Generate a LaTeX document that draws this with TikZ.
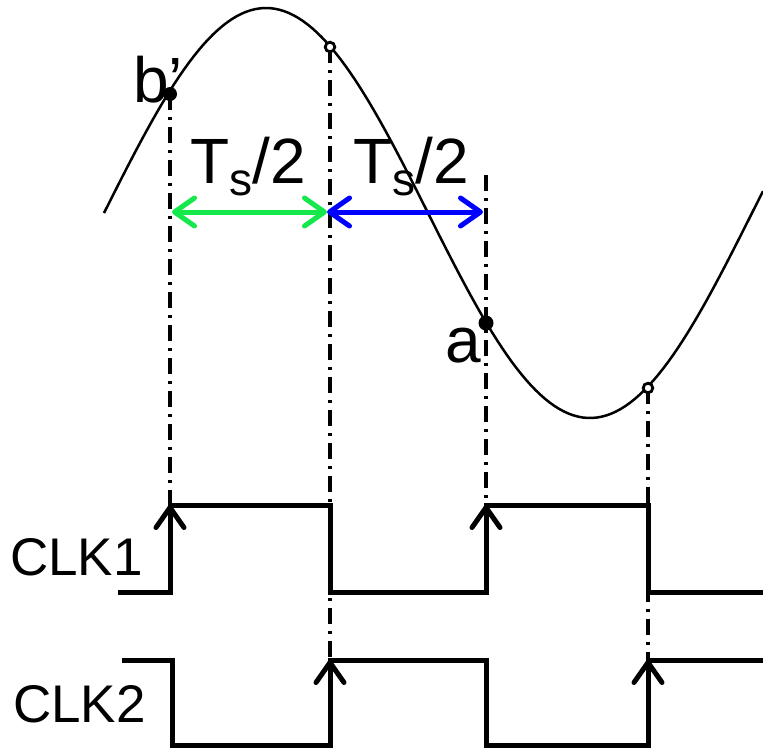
\documentclass[tikz,border=0pt]{standalone}
\usepackage{fontspec}
\setmainfont{Liberation Sans}
\usetikzlibrary{arrows.meta}
\definecolor{Green}{HTML}{14E84A}
\definecolor{Blue}{HTML}{0000FF}

\begin{document}
\begin{tikzpicture}[x=1pt,y=-1pt,>={Straight Barb[length=20pt,width=28pt,round]},
    clk/.style={line width=5pt},
    guide/.style={line width=4pt,dash pattern=on 16pt off 7pt on 3pt off 7pt},
    lbl/.style={inner sep=0pt,anchor=base west,font=\fontsize{64}{70}\selectfont},
    clklbl/.style={inner sep=0pt,anchor=base west,font=\fontsize{53}{60}\selectfont}]
  \useasboundingbox (0,0) rectangle (763,750);
  % signal
  \draw[line width=2.5pt] plot[domain=104:763,samples=140] (\x,{213-205*sin((\x-104)*0.55556)});
  \coordinate (b) at (170,94); \coordinate (top) at (330,47); \coordinate (a) at (486,323); \coordinate (bot) at (648,388);
  \coordinate (m) at (486,175);
  \coordinate (r1) at (170,505); \coordinate (r2) at (330,660); \coordinate (r3) at (486,505); \coordinate (r4) at (648,660);
  \draw[guide] (b)--(r1); \draw[guide] (top)--(r2); \draw[guide] (m)--(r3); \draw[guide] (bot)--(r4);
  \fill (b) circle (7pt); \fill (a) circle (7.5pt);
  \draw[line width=2.8pt,fill=white] (top) circle (4.8pt); \draw[line width=2.8pt,fill=white] (bot) circle (4.8pt);
  % clocks
  \draw[clk] (118,592) -| (r1) -| (330,592) -| (r3) -| (648,592) -- (763,592);
  \draw[clk] (122,660) -| (172,745) -| (r2) -| (486,745) -| (r4) -- (763,660);
  \draw[clk,->] (170,590)--(r1); \draw[clk,->] (486,590)--(r3);
  \draw[clk,->] (330,743)--(r2); \draw[clk,->] (648,743)--(r4);
  % half periods
  \coordinate (g1) at (172,212); \coordinate (g2) at (327,212); \coordinate (g3) at (483,212);
  \draw[Green,line width=5pt,<->] (g1)--(g2); \draw[Blue,line width=5pt,<->] (g2)--(g3);
  \node[lbl] (ts1) at (190,183) {T\lower12pt\hbox{\fontsize{46}{46}\selectfont s}/2};
  \node[lbl] (ts2) at (353,183) {T\lower12pt\hbox{\fontsize{46}{46}\selectfont s}/2};
  \node[lbl] (bl) at (133,102) {b’}; \node[lbl] (al) at (445,362) {a};
  \node[clklbl] (c1) at (10,575) {CLK1}; \node[clklbl] (c2) at (13,722) {CLK2};
\end{tikzpicture}
\end{document}
